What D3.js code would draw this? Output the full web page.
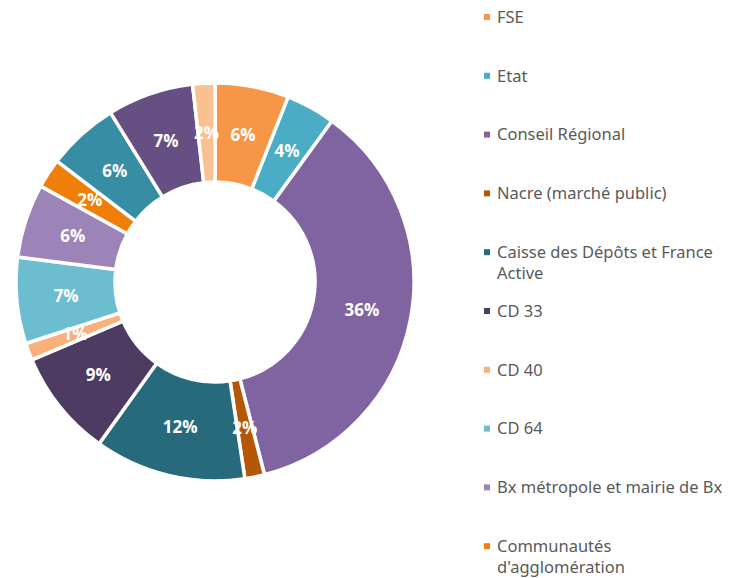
<!DOCTYPE html>
<html>
<head>
<meta charset="utf-8">
<script src="https://cdn.jsdelivr.net/npm/d3@7"></script>
<style>
  body { margin: 0; background: #fff; }
  svg { display: block; }
</style>
</head>
<body>
<svg id="chart" width="740" height="578"></svg>
<script>
// financeurs (les 3 derniers ne tiennent plus dans la légende)
var names = ["FSE", "Etat", "Conseil Régional", "Nacre (marché public)",
  "Caisse des Dépôts et France Active", "CD 33", "CD 40", "CD 64",
  "Bx métropole et mairie de Bx", "Communautés d'agglomération",
  "Communes", "Fondations", "Autres"];
var shares = [6, 4, 36, 1.6, 12.3, 8.7, 1.4, 7, 6, 2.4, 5.8, 7, 1.8];
var colors = ["#F79646", "#4BACC6", "#8064A2", "#B65708", "#276A7C", "#4D3B62",
  "#FAB07A", "#6DBDD1", "#9C84B8", "#F07F09", "#378DA3", "#664F82", "#FAC090"];

var svg = d3.select("#chart");
var width = 740, height = 578;
var cx = 215, cy = 282;
var outerR = 199, innerR = 100;

var color = d3.scaleOrdinal().domain(names).range(colors);

var pie = d3.pie().sort(null).value(function(d) { return d.v; });
var data = names.map(function(n, i) { return { name: n, v: shares[i] }; });
var total = d3.sum(shares);

var arc = d3.arc().innerRadius(innerR).outerRadius(outerR);
var labelArc = d3.arc().innerRadius((innerR + outerR) / 2).outerRadius((innerR + outerR) / 2);

var g = svg.append("g").attr("transform", "translate(" + cx + "," + cy + ")");

var slices = g.selectAll(".slice")
  .data(pie(data))
  .enter()
  .append("path")
  .attr("class", "slice")
  .attr("d", arc)
  .attr("fill", function(d) { return color(d.data.name); })
  .attr("stroke", "#fff")
  .attr("stroke-width", 3.5);

g.selectAll(".lbl")
  .data(pie(data))
  .enter()
  .append("text")
  .attr("class", "lbl")
  .attr("transform", function(d) { return "translate(" + labelArc.centroid(d) + ")"; })
  .attr("text-anchor", "middle")
  .attr("dy", "0.35em")
  .attr("fill", "#fff")
  .attr("font-family", "'Open Sans', 'Noto Sans', sans-serif")
  .attr("font-weight", "bold")
  .attr("font-size", "17px")
  .text(function(d) { return d3.format(".0%")(d.data.v / total); });

// legend - only the entries that fit in the box are shown
var legX = 484, legY = 17, legStep = 58.8, maxW = 236;
var shown = names.filter(function(d, i) { return legY + i * legStep < height - 20; });

var legend = svg.selectAll(".legend")
  .data(shown)
  .enter()
  .append("g")
  .attr("class", "legend")
  .attr("transform", function(d, i) { return "translate(" + legX + "," + (legY + i * legStep) + ")"; });

legend.append("rect")
  .attr("x", 0)
  .attr("y", -3)
  .attr("width", 6)
  .attr("height", 6)
  .attr("fill", function(d) { return color(d); });

legend.append("text")
  .attr("x", 13)
  .attr("y", 0)
  .attr("dy", "0.35em")
  .attr("fill", "#595959")
  .attr("font-family", "'Noto Sans', sans-serif")
  .attr("font-size", "16.5px")
  .each(function(d) {
    // simple word wrap
    var t = d3.select(this);
    var words = d.split(" ");
    var line = [];
    var tspan = t.append("tspan").attr("x", 13);
    words.forEach(function(w) {
      line.push(w);
      tspan.text(line.join(" "));
      if (tspan.node().getComputedTextLength() > maxW && line.length > 1) {
        line.pop();
        tspan.text(line.join(" "));
        line = [w];
        tspan = t.append("tspan").attr("x", 13).attr("dy", "1.3em").text(w);
      }
    });
  });
</script>
</body>
</html>
